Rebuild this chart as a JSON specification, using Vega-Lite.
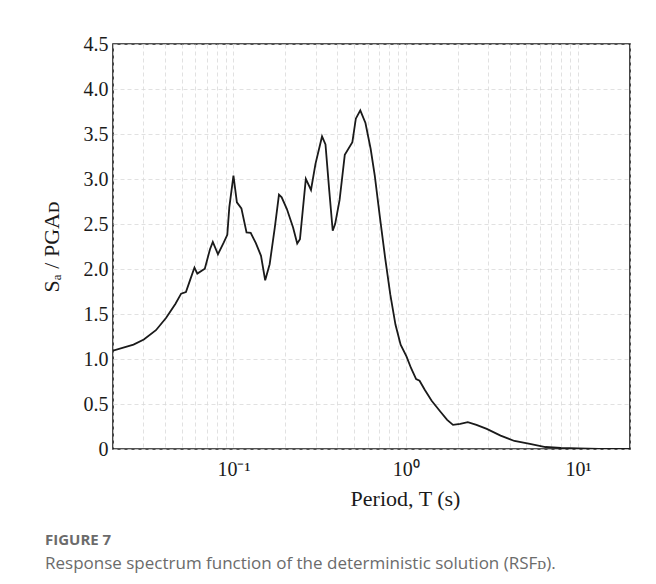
{
  "$schema": "https://vega.github.io/schema/vega-lite/v6.json",
  "width": 517,
  "height": 405,
  "autosize": {"type": "none"},
  "padding": {"left": 113, "top": 44, "right": 26, "bottom": 135},
  "background": "white",
  "title": {
    "text": "FIGURE 7",
    "subtitle": "Response spectrum function of the deterministic solution (RSFᴅ).",
    "orient": "bottom",
    "anchor": "start",
    "frame": "group",
    "dx": -68,
    "offset": 24,
    "font": "Open Sans",
    "fontSize": 15,
    "fontWeight": "bold",
    "color": "#6b6b6b",
    "subtitleFont": "Open Sans",
    "subtitleFontSize": 17,
    "subtitleColor": "#6b6b6b",
    "subtitlePadding": 8
  },
  "data": {
    "values": [
      {"T": 0.02, "SA": 1.093},
      {"T": 0.0263, "SA": 1.16},
      {"T": 0.0302, "SA": 1.216},
      {"T": 0.0355, "SA": 1.32},
      {"T": 0.0407, "SA": 1.458},
      {"T": 0.0461, "SA": 1.614},
      {"T": 0.0497, "SA": 1.726},
      {"T": 0.053, "SA": 1.744},
      {"T": 0.0562, "SA": 1.885},
      {"T": 0.0594, "SA": 2.016},
      {"T": 0.0617, "SA": 1.949},
      {"T": 0.0682, "SA": 2.004},
      {"T": 0.0731, "SA": 2.22},
      {"T": 0.0759, "SA": 2.302},
      {"T": 0.0813, "SA": 2.164},
      {"T": 0.0879, "SA": 2.295},
      {"T": 0.0921, "SA": 2.38},
      {"T": 0.0946, "SA": 2.685},
      {"T": 0.1, "SA": 3.038},
      {"T": 0.1047, "SA": 2.741},
      {"T": 0.1112, "SA": 2.674},
      {"T": 0.1191, "SA": 2.406},
      {"T": 0.1259, "SA": 2.402},
      {"T": 0.1349, "SA": 2.287},
      {"T": 0.1445, "SA": 2.146},
      {"T": 0.1528, "SA": 1.874},
      {"T": 0.1622, "SA": 2.053},
      {"T": 0.1738, "SA": 2.462},
      {"T": 0.1837, "SA": 2.826},
      {"T": 0.1905, "SA": 2.797},
      {"T": 0.2042, "SA": 2.666},
      {"T": 0.2218, "SA": 2.462},
      {"T": 0.2344, "SA": 2.283},
      {"T": 0.2432, "SA": 2.332},
      {"T": 0.263, "SA": 3.001},
      {"T": 0.2818, "SA": 2.878},
      {"T": 0.2992, "SA": 3.168},
      {"T": 0.3266, "SA": 3.473},
      {"T": 0.342, "SA": 3.384},
      {"T": 0.3597, "SA": 2.871},
      {"T": 0.3767, "SA": 2.425},
      {"T": 0.389, "SA": 2.499},
      {"T": 0.413, "SA": 2.767},
      {"T": 0.4426, "SA": 3.269},
      {"T": 0.4898, "SA": 3.41},
      {"T": 0.5129, "SA": 3.67},
      {"T": 0.5445, "SA": 3.763},
      {"T": 0.5834, "SA": 3.622},
      {"T": 0.6252, "SA": 3.336},
      {"T": 0.6607, "SA": 3.038},
      {"T": 0.7079, "SA": 2.573},
      {"T": 0.7586, "SA": 2.127},
      {"T": 0.8128, "SA": 1.718},
      {"T": 0.871, "SA": 1.383},
      {"T": 0.9333, "SA": 1.16},
      {"T": 1.009, "SA": 1.03},
      {"T": 1.072, "SA": 0.9},
      {"T": 1.148, "SA": 0.777},
      {"T": 1.202, "SA": 0.759},
      {"T": 1.288, "SA": 0.658},
      {"T": 1.413, "SA": 0.536},
      {"T": 1.585, "SA": 0.417},
      {"T": 1.738, "SA": 0.324},
      {"T": 1.879, "SA": 0.268},
      {"T": 2.07, "SA": 0.279},
      {"T": 2.29, "SA": 0.298},
      {"T": 2.57, "SA": 0.268},
      {"T": 2.95, "SA": 0.223},
      {"T": 3.55, "SA": 0.149},
      {"T": 4.27, "SA": 0.089},
      {"T": 5.25, "SA": 0.056},
      {"T": 6.46, "SA": 0.022},
      {"T": 7.94, "SA": 0.011},
      {"T": 10, "SA": 0.007},
      {"T": 13.2, "SA": 0.0},
      {"T": 20, "SA": 0.0}
    ]
  },
  "mark": {"type": "line", "color": "#1a1a1a", "strokeWidth": 1.8, "clip": true},
  "encoding": {
    "x": {
      "field": "T",
      "type": "quantitative",
      "scale": {"type": "log", "domain": [0.02, 20], "nice": false},
      "axis": {
        "title": "Period, T (s)",
        "values": [0.02, 0.03, 0.04, 0.05, 0.06, 0.07, 0.08, 0.09, 0.1, 0.2, 0.3, 0.4, 0.5, 0.6, 0.7, 0.8, 0.9, 1, 2, 3, 4, 5, 6, 7, 8, 9, 10, 20],
        "labelExpr": "datum.value == 0.1 ? '10⁻¹' : datum.value == 1 ? '10⁰' : datum.value == 10 ? '10¹' : ''",
        "ticks": false,
        "domain": false,
        "labelPadding": 10,
        "titlePadding": 9,
        "titleX": 292
      }
    },
    "y": {
      "field": "SA",
      "type": "quantitative",
      "scale": {"domain": [0, 4.5], "nice": false, "zero": true},
      "axis": {
        "title": "Sₐ / PGAᴅ",
        "values": [0, 0.5, 1, 1.5, 2, 2.5, 3, 3.5, 4, 4.5],
        "labelExpr": "datum.value == 0 ? '0' : format(datum.value, '.1f')",
        "ticks": false,
        "domain": false,
        "labelPadding": 5,
        "titlePadding": 20
      }
    }
  },
  "config": {
    "view": {"stroke": "#1a1a1a", "strokeWidth": 1.6},
    "axis": {
      "labelFont": "Liberation Serif",
      "labelFontSize": 20,
      "labelColor": "#1a1a1a",
      "titleFont": "Liberation Serif",
      "titleFontSize": 22,
      "titleFontWeight": "normal",
      "titleColor": "#1a1a1a",
      "grid": true,
      "gridColor": "#d9d9d9",
      "gridDash": [4, 3],
      "gridWidth": 0.8
    }
  }
}
